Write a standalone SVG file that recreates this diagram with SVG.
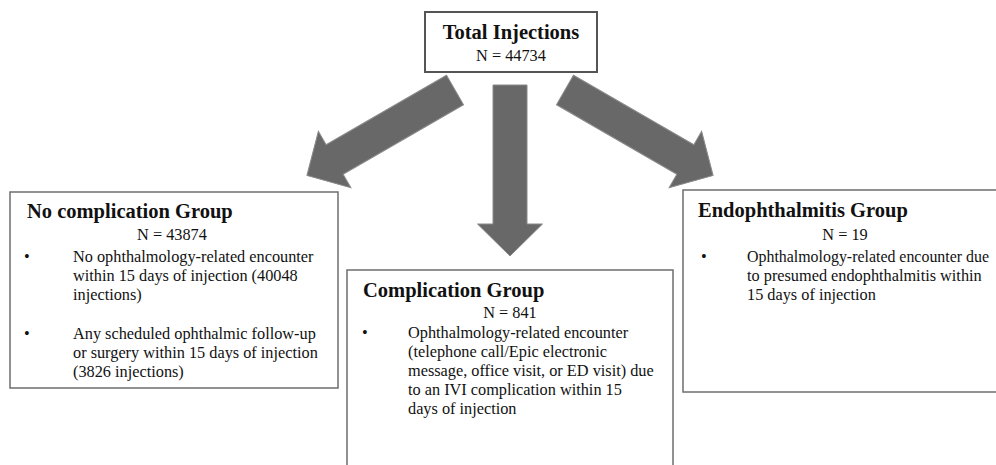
<svg xmlns="http://www.w3.org/2000/svg" width="996" height="465" viewBox="0 0 996 465">
<style>
.box{fill:#fff;stroke:#6e6e6e;stroke-width:1.5}
.t{font-family:"Liberation Serif","Times New Roman",serif;fill:#111}
.h{font-size:20.5px;font-weight:bold}
.n{font-size:16.3px;text-anchor:middle}
.b{font-size:16.3px}
.arr{fill:#686868;stroke:#8a8a8a;stroke-width:1}
</style>
<defs>
<polygon id="arrowShape" class="arr" points="0,-17 139,-17 139,-32.5 171,0 139,32.5 139,17 0,17"/>
</defs>
<rect width="996" height="465" fill="#fff"/>
<g id="connectors">
<use href="#arrowShape" transform="translate(455,90) rotate(150)"/>
<use href="#arrowShape" transform="translate(510,85) rotate(90)"/>
<use href="#arrowShape" transform="translate(565,90) rotate(30)"/>
</g>
<g id="total">
<rect class="box" x="425" y="12" width="172" height="60" style="stroke:#555;stroke-width:2"/>
<text class="t h" x="511" y="39" text-anchor="middle">Total Injections</text>
<text class="t n" x="511" y="61">N = 44734</text>
</g>
<g id="nocomp">
<rect class="box" x="10" y="192" width="328" height="196"/>
<text class="t h" x="27" y="218">No complication Group</text>
<text class="t n" x="172" y="240">N = 43874</text>
<text class="t b" x="24" y="262">•</text>
<text class="t b"><tspan x="73" y="262">No ophthalmology-related encounter</tspan><tspan x="73" y="281">within 15 days of injection (40048</tspan><tspan x="73" y="300">injections)</tspan></text>
<text class="t b" x="24" y="339">•</text>
<text class="t b"><tspan x="73" y="339">Any scheduled ophthalmic follow-up</tspan><tspan x="73" y="358">or surgery within 15 days of injection</tspan><tspan x="73" y="377">(3826 injections)</tspan></text>
</g>
<g id="comp">
<rect class="box" x="347" y="270" width="326" height="205"/>
<text class="t h" x="363" y="297">Complication Group</text>
<text class="t n" x="510" y="318">N = 841</text>
<text class="t b" x="362" y="338">•</text>
<text class="t b"><tspan x="408" y="338">Ophthalmology-related encounter</tspan><tspan x="408" y="357">(telephone call/Epic electronic</tspan><tspan x="408" y="376">message, office visit, or ED visit) due</tspan><tspan x="408" y="395">to an IVI complication within 15</tspan><tspan x="408" y="414">days of injection</tspan></text>
</g>
<g id="endo">
<rect class="box" x="683" y="190" width="324" height="202"/>
<text class="t h" x="698" y="217">Endophthalmitis Group</text>
<text class="t n" x="845" y="240">N = 19</text>
<text class="t b" x="701" y="262">•</text>
<text class="t b" x="747" y="262" textLength="242" lengthAdjust="spacingAndGlyphs">Ophthalmology-related encounter due</text>
<text class="t b"><tspan x="747" y="281">to presumed endophthalmitis within</tspan><tspan x="747" y="300">15 days of injection</tspan></text>
</g>
</svg>
